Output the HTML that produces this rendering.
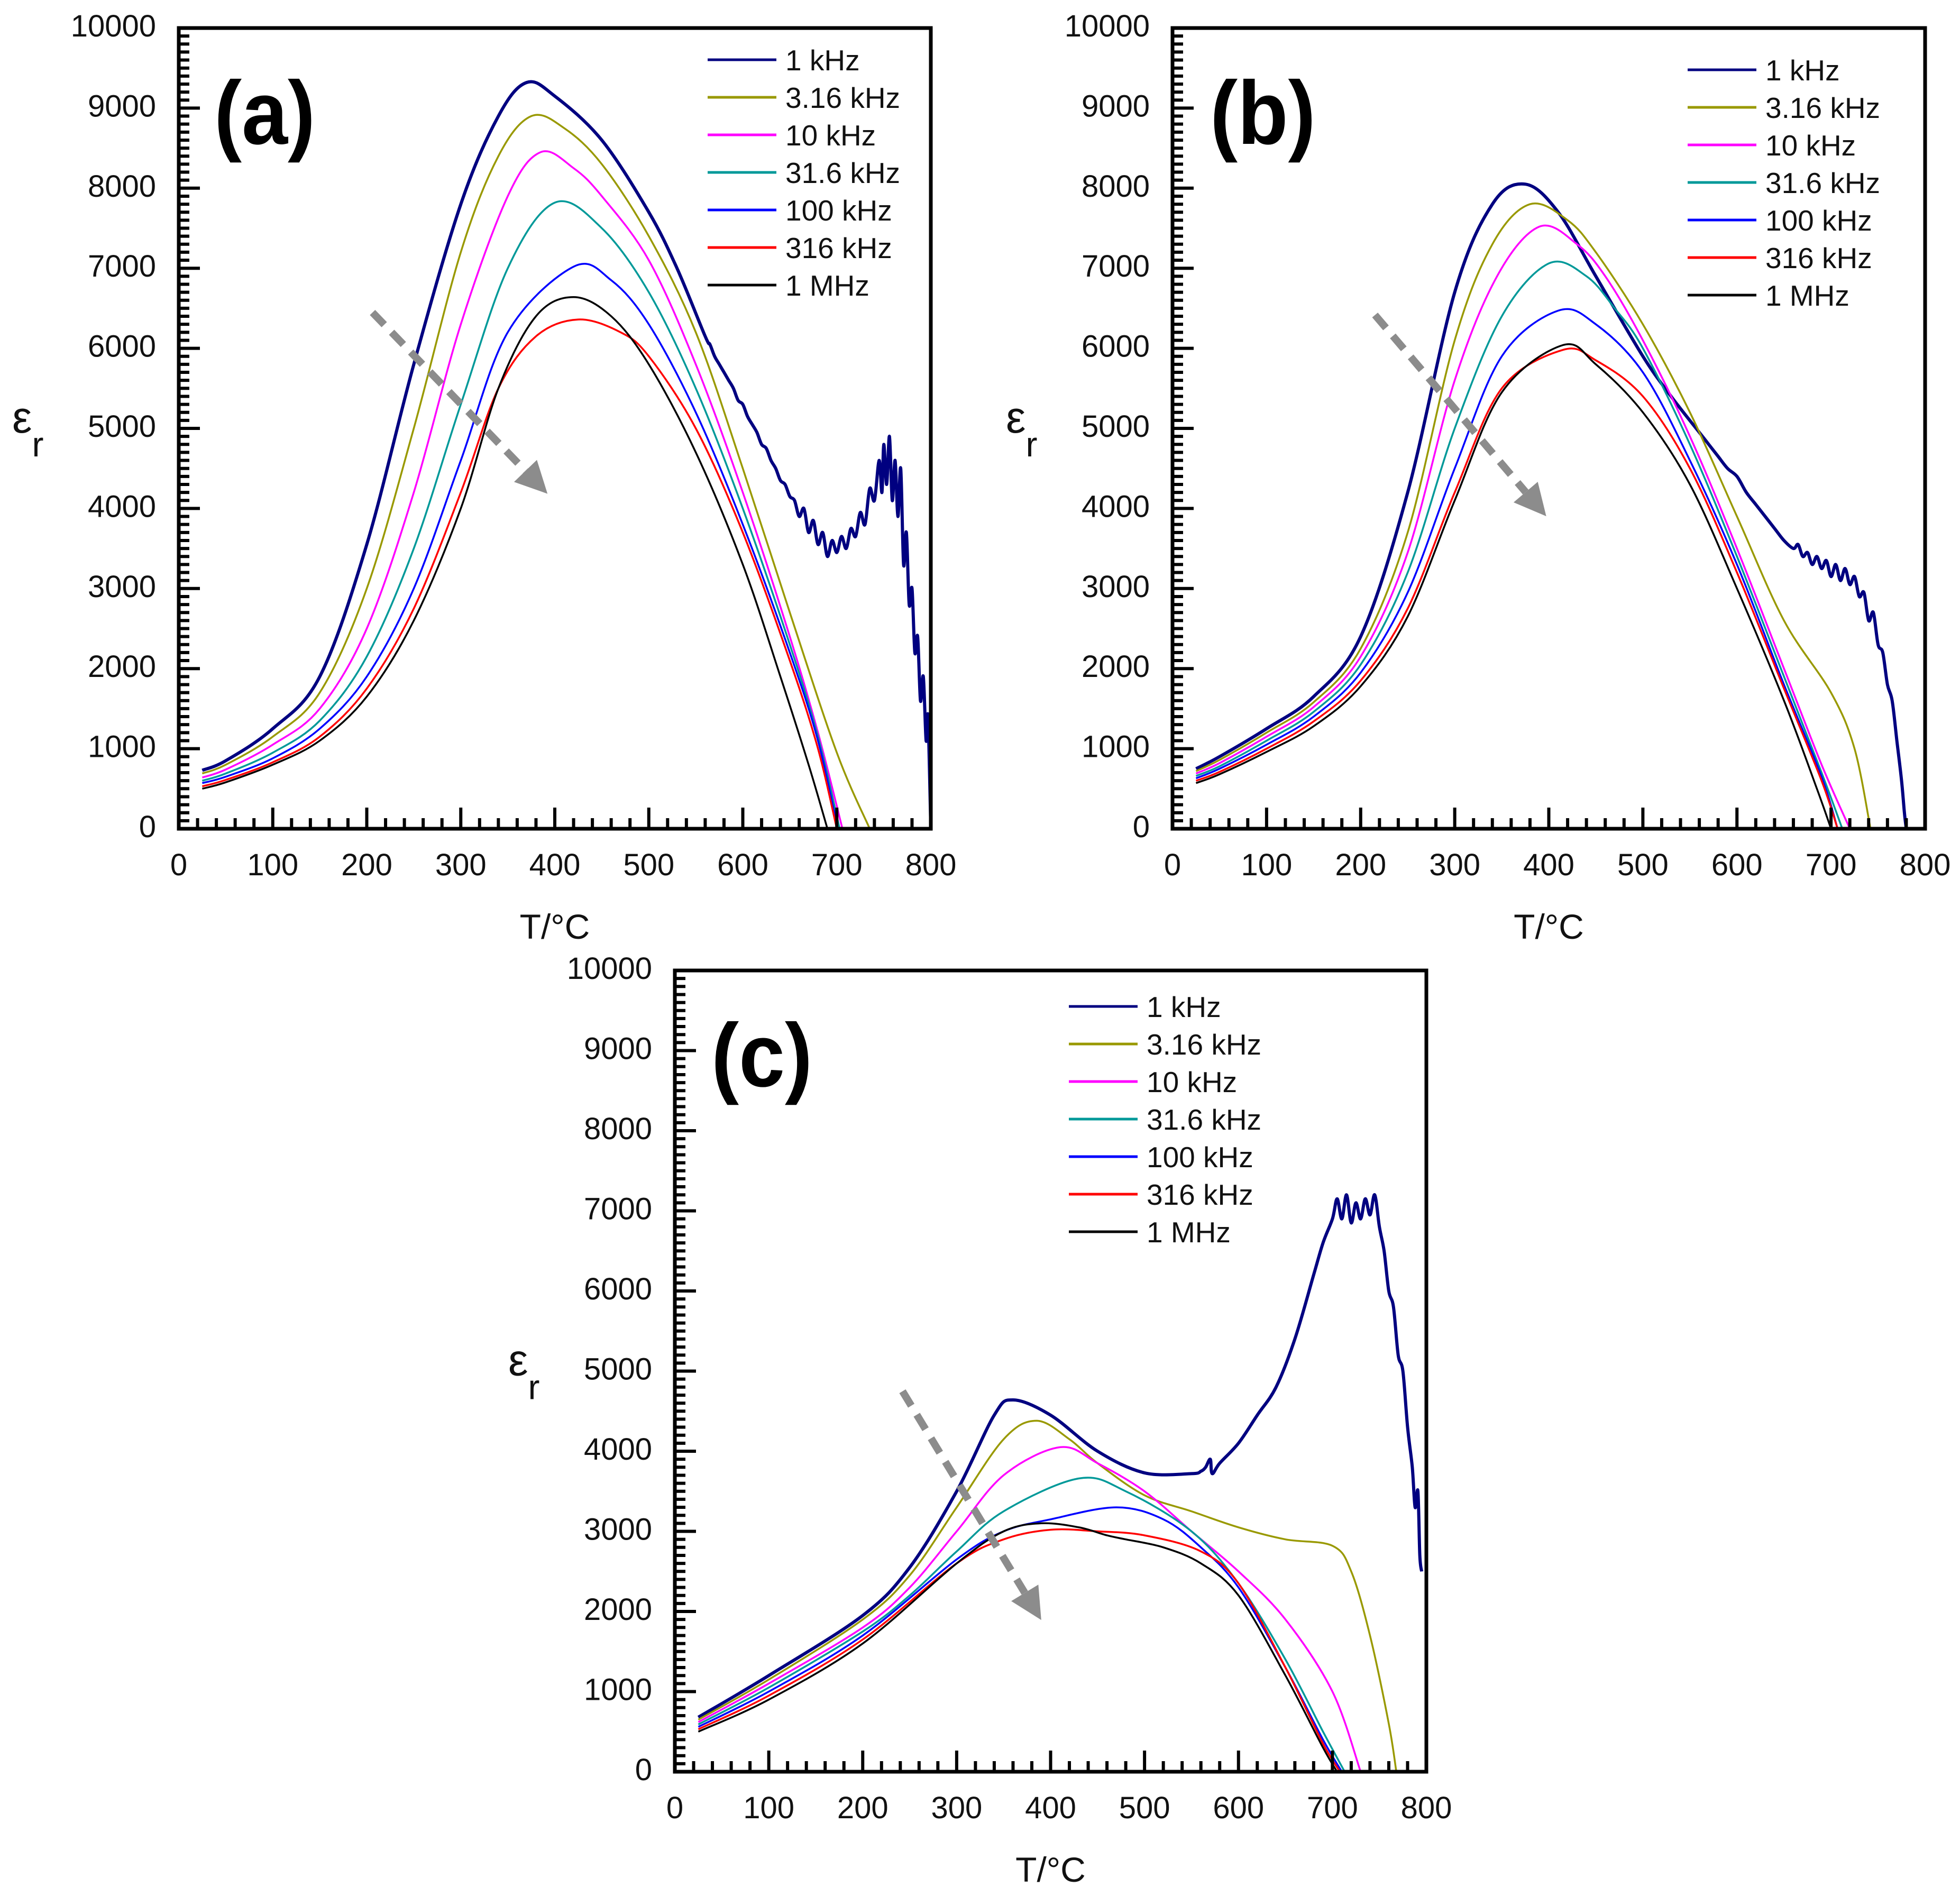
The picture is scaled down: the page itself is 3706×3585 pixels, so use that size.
<!DOCTYPE html>
<html><head><meta charset="utf-8">
<style>
html,body{margin:0;padding:0;background:#fff;}
svg{display:block;font-family:"Liberation Sans",sans-serif;}
</style></head>
<body>
<svg id="chart" width="3706" height="3585" viewBox="0 0 3706 3585" xmlns="http://www.w3.org/2000/svg"></svg>
<script>
// ---- data ----
const seriesNames = ["1 kHz","3.16 kHz","10 kHz","31.6 kHz","100 kHz","316 kHz","1 MHz"];
const seriesColors = ["#000080","#999900","#ff00ff","#009999","#0000ff","#ff0000","#000000"];
const xTicks = [0,100,200,300,400,500,600,700,800];
const yTicks = [0,1000,2000,3000,4000,5000,6000,7000,8000,9000,10000];

// panel (a)
const aT1 = [25,50,100,150,200,250,300,340,370,400,450,500,530,560,565,570,575,580,585,590,595,600,605,610,615,620,625,630,635,640,645,650,655,660,665,670,675,680,685,690,695,700,705,710,715,720,725,730,735,740,745,748,750,753,756,759,762,765,768,771,774,777,780,783,786,789,792,795,797,800];
const aE1 = [730,850,1250,1900,3550,5800,7800,8900,9320,9150,8600,7700,7000,6150,6050,5900,5800,5700,5600,5500,5350,5300,5150,5050,4950,4800,4750,4600,4500,4350,4300,4150,4100,3900,4000,3700,3850,3550,3700,3400,3600,3450,3650,3500,3750,3650,3950,3800,4250,4100,4600,4200,4800,4300,4900,4100,4600,3900,4500,3300,3700,2800,3000,2200,2400,1600,1900,1100,1400,0];
const aT2 = [25,50,100,150,200,250,300,340,375,410,450,500,550,600,650,700,735];
const aE2 = [690,800,1150,1700,3000,5000,7200,8400,8900,8750,8300,7400,6200,4500,2700,950,0];
const aT3 = [25,50,100,150,200,250,300,350,385,420,450,500,550,600,650,680,706];
const aE3 = [640,740,1050,1500,2500,4200,6300,7900,8450,8250,7900,7100,5800,4200,2400,1200,0];
const aT4 = [25,50,100,150,200,250,300,350,400,450,500,550,600,650,680,703];
const aE4 = [600,690,950,1350,2150,3500,5300,7000,7820,7500,6700,5500,4000,2300,1150,0];
const aT5 = [25,50,100,150,200,250,300,350,420,460,500,550,600,650,680,701];
const aE5 = [570,650,880,1250,1900,3000,4600,6200,7020,6850,6300,5200,3800,2200,1100,0];
const aT6 = [25,50,100,150,200,250,300,340,380,425,470,500,550,600,650,680,700];
const aE6 = [530,610,830,1150,1750,2750,4200,5500,6150,6360,6200,5900,5000,3700,2100,1000,0];
const aT7 = [25,50,100,150,200,250,300,340,380,420,460,500,550,600,640,670,690];
const aE7 = [500,580,800,1100,1650,2600,4000,5500,6400,6640,6400,5800,4700,3300,1900,800,0];

// panel (b)
const bT1 = [25,50,100,150,200,250,300,340,375,410,450,500,530,560,570,580,590,600,610,620,630,640,650,660,665,670,675,680,685,690,695,700,705,710,715,720,725,730,735,740,745,750,755,760,765,770,775,778,780];
const bE1 = [750,900,1250,1650,2400,4200,6700,7800,8050,7700,6900,5900,5400,4950,4800,4650,4500,4400,4200,4050,3900,3750,3600,3500,3550,3400,3450,3300,3400,3250,3350,3150,3300,3100,3250,3050,3150,2900,2950,2600,2700,2300,2200,1800,1600,1100,600,200,0];
const bT2 = [25,50,100,150,200,250,300,340,380,420,450,500,550,600,650,700,725,742];
const bE2 = [720,860,1200,1580,2250,3700,6100,7300,7800,7600,7200,6300,5200,3900,2600,1700,1000,0];
const bT3 = [25,50,100,150,200,250,300,345,390,430,460,500,550,600,650,690,720];
const bE3 = [690,820,1150,1520,2150,3450,5600,6900,7520,7300,6900,6100,4900,3500,2000,800,0];
const bT4 = [25,50,100,150,200,250,300,350,400,440,470,500,550,600,650,690,712];
const bE4 = [660,780,1100,1460,2050,3200,5000,6400,7060,6900,6500,6000,4800,3400,1900,700,0];
const bT5 = [25,50,100,150,200,250,300,350,410,450,500,550,600,650,690,707];
const bE5 = [630,750,1050,1400,1950,2950,4500,5900,6470,6300,5700,4600,3300,1800,650,0];
const bT6 = [25,50,100,150,200,250,300,350,415,450,500,550,600,650,690,707];
const bE6 = [600,710,1000,1340,1850,2750,4200,5500,5980,5850,5400,4500,3200,1750,600,0];
const bT7 = [25,50,100,150,200,250,300,350,415,450,500,550,600,650,685,700];
const bE7 = [570,680,960,1280,1780,2650,4100,5450,6040,5800,5200,4300,3000,1600,500,0];

// panel (c)
const cT1 = [25,100,200,250,300,340,360,400,450,500,550,560,565,570,572,580,600,620,640,660,680,690,700,705,710,715,720,725,730,735,740,745,750,755,760,765,770,775,780,785,788,791,793,795];
const cE1 = [680,1200,1950,2550,3500,4450,4640,4450,4000,3730,3720,3750,3800,3900,3720,3850,4100,4450,4800,5400,6200,6600,6900,7150,6900,7200,6850,7100,6900,7150,6950,7200,6800,6500,6000,5800,5200,5000,4300,3800,3300,3500,2700,2500];
const cT2 = [25,100,200,250,300,350,385,420,450,500,550,600,650,700,720,740,760,768];
const cE2 = [650,1150,1900,2450,3300,4150,4380,4150,3850,3450,3250,3050,2900,2820,2500,1700,600,0];
const cT3 = [25,100,200,250,300,350,410,450,500,550,600,650,700,730];
const cE3 = [620,1100,1800,2300,3000,3700,4050,3850,3500,3000,2500,1900,1000,0];
const cT4 = [25,100,200,250,300,350,430,480,550,600,650,690,713];
const cE4 = [590,1050,1750,2200,2750,3250,3660,3500,3000,2350,1400,500,0];
const cT5 = [25,100,200,300,350,400,470,520,560,600,650,690,710];
const cE5 = [560,1000,1700,2650,3000,3150,3300,3150,2800,2300,1300,400,0];
const cT6 = [25,100,200,300,350,400,450,500,560,600,650,690,708];
const cE6 = [530,950,1650,2600,2900,3020,3000,2950,2750,2350,1300,350,0];
const cT7 = [25,100,200,300,350,390,430,460,480,520,560,600,650,690,705];
const cE7 = [500,900,1600,2600,3000,3100,3050,2950,2900,2800,2600,2200,1200,300,0];

const panels = [
  {id:"a", L:338, R:1760, T:53, B:1567, temps:[aT1,aT2,aT3,aT4,aT5,aT6,aT7], eps:[aE1,aE2,aE3,aE4,aE5,aE6,aE7],
   legX:1338, legY:113, labX:405, labY:272, arrow:[298,250,438,395]},
  {id:"b", L:2217, R:3640, T:53, B:1567, temps:[bT1,bT2,bT3,bT4,bT5,bT6,bT7], eps:[bE1,bE2,bE3,bE4,bE5,bE6,bE7],
   legX:3191, legY:132, labX:2288, labY:272, arrow:[1100,252,1237,413]},
  {id:"c", L:1276, R:2697, T:1835, B:3350, temps:[cT1,cT2,cT3,cT4,cT5,cT6,cT7], eps:[cE1,cE2,cE3,cE4,cE5,cE6,cE7],
   legX:2021, legY:1903, labX:1345, labY:2054, arrow:[722,1113,833,1296]}
];

const NS = "http://www.w3.org/2000/svg";
const svg = document.getElementById("chart");
function mk(tag, attrs, parent){
  const e = document.createElementNS(NS, tag);
  for (const k in attrs) e.setAttribute(k, attrs[k]);
  (parent||svg).appendChild(e);
  return e;
}
const defs = mk("defs", {});
const S = 2.3635;

panels.forEach(p => {
  const g = mk("g", {});
  
  
  const xs = v => p.L + (v/800)*(p.R-p.L);
  const ys = v => p.B - (v/10000)*(p.B-p.T);

  const cp = mk("clipPath", {id:"clip"+p.id}, defs);
  mk("rect", {x:p.L, y:p.T, width:p.R-p.L, height:p.B-p.T}, cp);

  const sg = mk("g", {"clip-path":"url(#clip"+p.id+")"}, g);
  p.temps.forEach((ts, si) => {
    const es = p.eps[si];
    const pts = ts.map((t,i)=>[xs(t), ys(es[i])]);
    let d = "M"+pts[0][0].toFixed(1)+","+pts[0][1].toFixed(1);
    for (let i=0;i<pts.length-1;i++){
      const p0=pts[Math.max(0,i-1)], p1=pts[i], p2=pts[i+1], p3=pts[Math.min(pts.length-1,i+2)];
      const c1=[p1[0]+(p2[0]-p0[0])/6, p1[1]+(p2[1]-p0[1])/6];
      const c2=[p2[0]-(p3[0]-p1[0])/6, p2[1]-(p3[1]-p1[1])/6];
      d += " C"+c1[0].toFixed(1)+","+c1[1].toFixed(1)+" "+c2[0].toFixed(1)+","+c2[1].toFixed(1)+" "+p2[0].toFixed(1)+","+p2[1].toFixed(1);
    }
    const path = mk("path", {d:d, fill:"none", stroke:seriesColors[si], "stroke-width": si===0?6:3.5, "stroke-linejoin":"round"}, sg);
    
    
  });

  const tg = mk("g", {stroke:"#000", "stroke-width":6}, g);
  
  
  for (let v=0; v<=800; v+=20){
    const major = v%100===0;
    mk("line", {x1:xs(v), x2:xs(v), y1:p.B, y2:p.B-(major?40:20)}, tg);
  }
  for (let v=0; v<=10000; v+=100){
    const major = v%1000===0;
    mk("line", {x1:p.L, x2:p.L+(major?40:20), y1:ys(v), y2:ys(v)}, tg);
  }
  const fr = mk("rect", {x:p.L, y:p.T, width:p.R-p.L, height:p.B-p.T, fill:"none", stroke:"#000", "stroke-width":7}, g);
  
  

  xTicks.forEach(v => {
    const t = mk("text", {x:xs(v), y:p.B+88, "font-size":58, "text-anchor":"middle", fill:"#111"}, g);
    t.textContent = v;
    
    
  });
  yTicks.forEach(v => {
    const t = mk("text", {x:p.L-43, y:ys(v)+16, "font-size":58, "text-anchor":"end", fill:"#111"}, g);
    t.textContent = v;
    
    
  });
  const xt = mk("text", {x:(p.L+p.R)/2, y:p.B+208, "font-size":66, "text-anchor":"middle", fill:"#111"}, g);
  xt.textContent = "T/°C";
  
  
  const yt = mk("text", {x:p.L-315, y:(p.T+p.B)/2+8, "font-size":84, fill:"#111"}, g);
  yt.innerHTML = 'ε<tspan font-size="66" dy="45">r</tspan>';
  
  

  const lb = mk("text", {x:p.labX, y:p.labY, "font-size":170, "font-weight":"bold", fill:"#000", transform:"translate("+p.labX+","+p.labY+") scale(0.92,1) translate("+(-p.labX)+","+(-p.labY)+")"}, g);
  lb.textContent = "("+p.id+")";
  
  

  const lg = mk("g", {}, g);
  
  
  seriesNames.forEach((n, i) => {
    const y = p.legY + i*71;
    const e = mk("g", {}, lg);
    
    
    mk("line", {x1:p.legX, x2:p.legX+130, y1:y, y2:y, stroke:seriesColors[i], "stroke-width":5}, e);
    const t = mk("text", {x:p.legX+147, y:y+20, "font-size":55, fill:"#111"}, e);
    t.textContent = n;
  });

  const a = p.arrow.map(v=>v*S);
  const dx=a[2]-a[0], dy=a[3]-a[1], len=Math.hypot(dx,dy), ux=dx/len, uy=dy/len;
  const ag = mk("g", {}, g);
  
  
  const hx=a[2]-ux*60, hy=a[3]-uy*60;
  mk("line", {x1:a[0], y1:a[1], x2:hx, y2:hy, stroke:"#8c8c8c", "stroke-width":14, "stroke-dasharray":"32,20"}, ag);
  mk("polygon", {points:[a[2],a[3], hx-uy*30,hy+ux*30, hx+uy*30,hy-ux*30].join(","), fill:"#8c8c8c"}, ag);
});
</script>
</body></html>
